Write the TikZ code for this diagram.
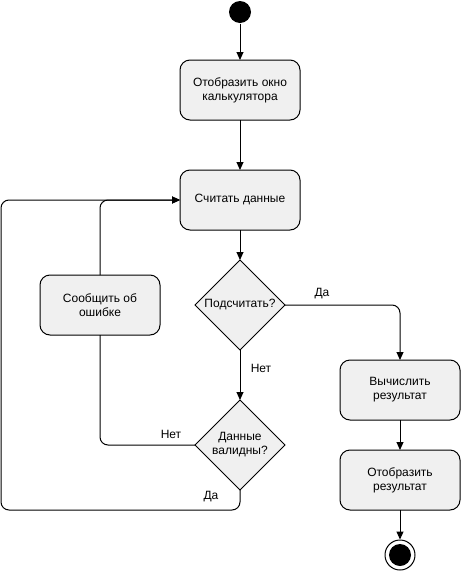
\documentclass[tikz,border=0pt]{standalone}
\usepackage{fontspec}
\setmainfont{Liberation Sans}
\usetikzlibrary{arrows.meta,shapes.geometric}
\definecolor{boxfill}{RGB}{240,240,240}
\begin{document}
\begin{tikzpicture}[x=1pt,y=-1pt,
  font=\fontsize{12}{14}\selectfont,
  every path/.style={line width=1pt},
  act/.style={draw, fill=boxfill, rounded corners=10pt, minimum width=120pt,
              minimum height=60pt, inner sep=0pt, align=center, outer sep=0pt},
  dec/.style={draw, fill=boxfill, diamond, minimum width=90pt, minimum height=90pt,
              inner sep=0pt, outer sep=0pt, aspect=1},
  flow/.style={-{Triangle[length=8pt,width=7pt]}, rounded corners=8pt},
  plain/.style={rounded corners=8pt},
  lbl/.style={inner sep=0pt}
]
\useasboundingbox (0,0) rectangle (461,571);

% start and end states
\node[circle, fill=black, minimum size=22pt, inner sep=0pt] (start) at (240,12) {};
\node[circle, draw, minimum size=30pt, inner sep=0pt] (finish) at (400,555) {};
\fill (finish.center) circle (11pt);

% activities
\node[act] (show)  at (240,90)  {Отобразить окно\\калькулятора};
\node[act] (read)  at (240,200) {Считать данные};
\node[act] (err)   at (100,305) {Сообщить об\\ошибке};
\node[act] (calc)  at (400,390) {Вычислить\\результат};
\node[act] (out)   at (400,480) {Отобразить\\результат};

% decisions
\node[dec, label={[align=center]center:Подсчитать?}] (ask) at (240,305) {};
\node[dec, label={[align=center]center:Данные\\валидны?}] (valid) at (240,445) {};

% loop corners
\coordinate (yesturn) at (240,510);
\coordinate (leftedge) at (1,510);

% connectors
\draw[flow] (start) -- (show);
\draw[flow] (show) -- (read);
\draw[flow] (read) -- (ask);
\draw[flow] (ask.east) -| (calc.north);
\draw[flow] (ask.south) -- (valid.north);
\draw[plain] (valid.west) -| (err.south);
\draw[flow] (err.north) |- (read.west);
\draw[flow] (valid.south) -- (yesturn) -- (leftedge) |- (read.west);
\draw[flow] (calc) -- (out);
\draw[flow] (out) -- (finish);

% branch labels
\node[lbl] (l1) at (322,294) {Да};
\node[lbl] (l2) at (261,368) {Нет};
\node[lbl] (l3) at (171,434) {Нет};
\node[lbl] (l4) at (211,497) {Да};
\end{tikzpicture}
\end{document}
